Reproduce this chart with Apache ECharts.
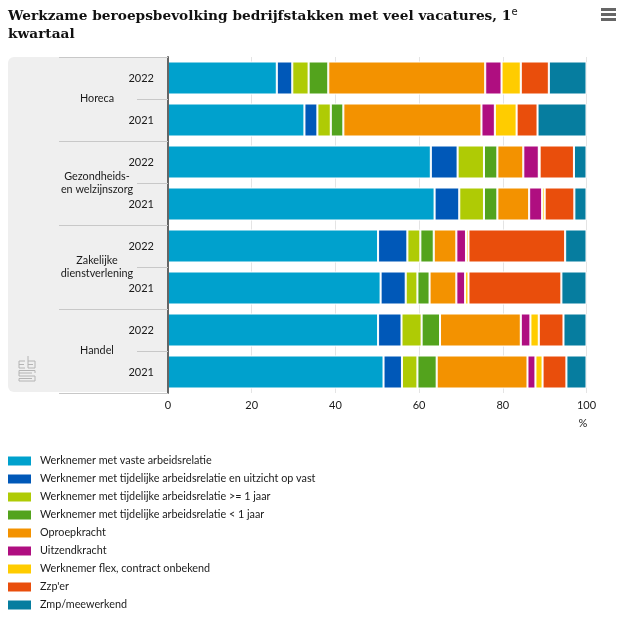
<!DOCTYPE html>
<html lang="nl">
<head>
<meta charset="utf-8">
<title>Werkzame beroepsbevolking</title>
<script src="https://cdn.jsdelivr.net/npm/echarts@6/dist/echarts.min.js"></script>
<style>
	html, body { margin: 0; padding: 0; background: #fff; }
	#chart { width: 621px; height: 619px; }
</style>
</head>
<body>
<div id="chart"></div>
<script>
// rijen van boven naar beneden
var years = ['2022', '2021', '2022', '2021', '2022', '2021', '2022', '2021'];
var groups = ['Horeca', 'Gezondheids-\nen welzijnszorg', 'Zakelijke\ndienstverlening', 'Handel'];
var xTicks = [0, 20, 40, 60, 80, 100];

var seriesNames = [
	'Werknemer met vaste arbeidsrelatie',
	'Werknemer met tijdelijke arbeidsrelatie en uitzicht op vast',
	'Werknemer met tijdelijke arbeidsrelatie >= 1 jaar',
	'Werknemer met tijdelijke arbeidsrelatie < 1 jaar',
	'Oproepkracht',
	'Uitzendkracht',
	'Werknemer flex, contract onbekend',
	"Zzp'er",
	'Zmp/meewerkend'
];
var colors = ['#00a1cd', '#0058b8', '#afcb05', '#53a31d', '#f39200', '#af0e80', '#ffcc00', '#e94e0c', '#067d9f'];

var vast = [26.0, 32.6, 62.8, 63.7, 50.2, 50.8, 50.2, 51.5];
var uitzicht = [3.7, 3.1, 6.4, 5.9, 7.0, 6.0, 5.6, 4.4];
var langer = [3.9, 3.2, 6.3, 5.9, 3.1, 2.8, 4.8, 3.7];
var korter = [4.7, 3.0, 3.2, 3.2, 3.2, 2.9, 4.4, 4.6];
var oproep = [37.5, 33.0, 6.2, 7.6, 5.4, 6.4, 19.3, 21.7];
var uitzend = [3.9, 3.2, 3.7, 3.1, 2.3, 2.1, 2.3, 1.9];
var flex = [4.6, 5.2, 0.2, 0.6, 0.6, 0.8, 2.0, 1.7];
var zzp = [6.7, 5.0, 8.2, 7.1, 23.1, 22.2, 5.9, 5.7];
var zmp = [9.0, 11.7, 3.0, 2.9, 5.1, 6.0, 5.5, 4.8];
var allValues = [vast, uitzicht, langer, korter, oproep, uitzend, flex, zzp, zmp];

var font = 'Lato, "Noto Sans", sans-serif';
var textColor = '#1a1a1a';

var chart = echarts.init(document.getElementById('chart'), null, { renderer: 'canvas' });

var series = [];
for (var i = 0; i < seriesNames.length; i++) {
	series.push({
		name: seriesNames[i],
		type: 'bar',
		stack: 'totaal',
		barWidth: 33,
		data: allValues[i],
		itemStyle: { color: colors[i], borderColor: '#fff', borderWidth: 1 }
	});
}

// cbs-logo, lijn voor lijn
var logoLines = [
	[[25, 361], [19, 361], [19, 368], [25, 368]],
	[[19, 364.5], [24, 364.5]],
	[[28, 356], [28, 368], [35, 368], [35, 361], [28, 361]],
	[[28, 364.5], [33, 364.5]],
	[[35, 373], [35, 370.5], [19, 370.5], [19, 376], [35, 376], [35, 381], [19, 381], [19, 378.5], [32, 378.5]],
	[[19, 373], [32, 373]]
];
var logo = logoLines.map(function (pts) {
	return { type: 'polyline', z: 3, shape: { points: pts }, style: { fill: null, stroke: '#b4b4b4', lineWidth: 1 } };
});

chart.setOption({
	animation: false,
	color: colors,
	title: {
		left: 3,
		top: 2,
		text: 'Werkzame beroepsbevolking bedrijfstakken met veel vacatures, 1{sup|e}\nkwartaal',
		textStyle: {
			fontFamily: 'DejaVu Serif',
			fontWeight: 'bold',
			fontSize: 13.7,
			lineHeight: 18,
			color: '#111',
			rich: {
				sup: { fontFamily: 'DejaVu Sans', fontSize: 10, fontWeight: 'normal', color: '#111', verticalAlign: 'top', lineHeight: 14 }
			}
		}
	},
	legend: {
		left: 3,
		top: 449,
		orient: 'vertical',
		itemWidth: 23,
		itemHeight: 9,
		itemGap: 4,
		icon: 'rect',
		selectedMode: false,
		itemStyle: { borderWidth: 0 },
		textStyle: { fontFamily: font, fontSize: 10.8, color: textColor, lineHeight: 14, padding: [0, 0, 0, 4] },
		data: seriesNames
	},
	grid: { left: 168, right: 34.5, top: 57, height: 336, containLabel: false },
	xAxis: {
		type: 'value',
		min: xTicks[0],
		max: xTicks[xTicks.length - 1],
		interval: xTicks[1] - xTicks[0],
		axisLine: { show: false },
		axisTick: { show: false },
		axisLabel: { fontFamily: font, fontSize: 11, color: textColor, margin: 7 },
		splitLine: { lineStyle: { color: '#e4e4e4', width: 1 } },
		name: '%',
		nameLocation: 'end',
		nameGap: -8,
		nameTextStyle: { fontFamily: font, fontSize: 11, color: textColor, verticalAlign: 'top', padding: [25, 0, 0, 0] }
	},
	yAxis: [
		{
			type: 'category',
			inverse: true,
			data: years.map(function (y, idx) { return { value: idx + '-' + y }; }),
			axisLine: { lineStyle: { color: '#666', width: 2 } },
			axisTick: { show: true, interval: 0, length: 31, lineStyle: { color: '#c8c8c8', width: 1 } },
			axisLabel: {
				fontFamily: font, fontSize: 11, color: textColor, margin: 14, interval: 0,
				formatter: function (v) { return v.split('-')[1]; }
			},
			z: 5
		},
		{
			type: 'category',
			position: 'left',
			inverse: true,
			data: groups,
			axisLine: { show: false },
			axisTick: { show: true, interval: 0, length: 109, lineStyle: { color: '#c8c8c8', width: 1 } },
			axisLabel: {
				fontFamily: font, fontSize: 10.8, color: textColor, margin: 71,
				align: 'center', lineHeight: 13, interval: 0
			},
			z: 5
		}
	],
	graphic: [
		// grijs vlak achter de labels
		{ type: 'rect', z: -10, shape: { x: 8, y: 57, width: 160, height: 335, r: [6, 0, 0, 6] }, style: { fill: '#efefef' } },
		// menu-icoon
		{ type: 'rect', shape: { x: 601, y: 8, width: 15, height: 3 }, style: { fill: '#666' } },
		{ type: 'rect', shape: { x: 601, y: 13, width: 15, height: 3 }, style: { fill: '#666' } },
		{ type: 'rect', shape: { x: 601, y: 18, width: 15, height: 3 }, style: { fill: '#666' } }
	].concat(logo),
	series: series
});
</script>
</body>
</html>
